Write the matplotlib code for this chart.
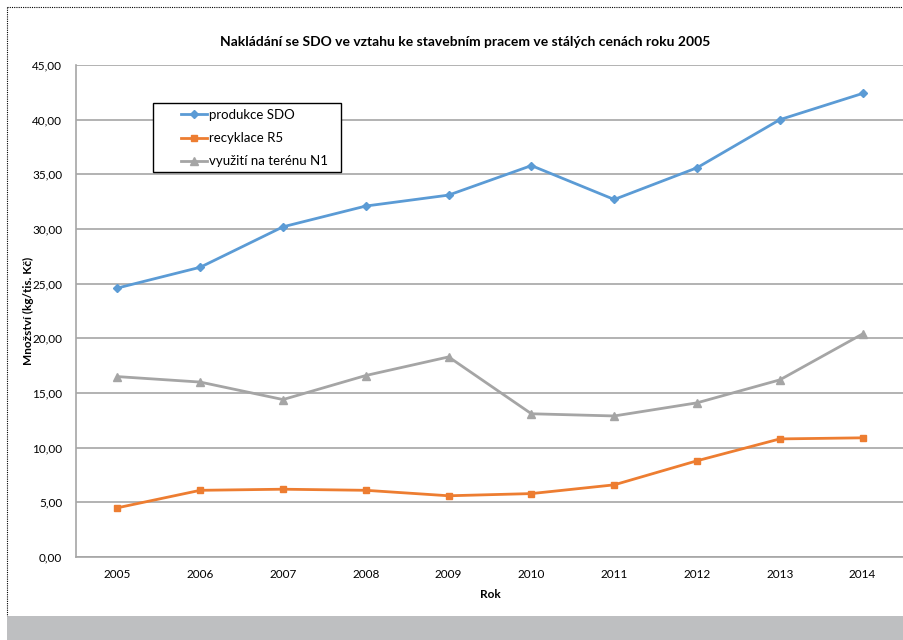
import matplotlib
matplotlib.use("Agg")
import matplotlib.pyplot as plt
from matplotlib.patches import Rectangle
from matplotlib.lines import Line2D
from matplotlib.ticker import FuncFormatter

plt.rcParams['font.family'] = ['Lato', 'DejaVu Sans']

years = ["2005", "2006", "2007", "2008", "2009", "2010", "2011", "2012", "2013", "2014"]
produkce_sdo = [24.6, 26.5, 30.2, 32.1, 33.1, 35.8, 32.7, 35.6, 40.0, 42.4]
recyklace_r5 = [4.5, 6.1, 6.2, 6.1, 5.6, 5.8, 6.6, 8.8, 10.8, 10.9]
vyuziti_n1 = [16.5, 16.0, 14.4, 16.6, 18.3, 13.1, 12.9, 14.1, 16.2, 20.4]
yticks = [0, 5, 10, 15, 20, 25, 30, 35, 40, 45]

W, H = 904, 640
fig = plt.figure(figsize=(W / 100, H / 100), dpi=100)
ax = fig.add_axes([76 / W, 1 - 557 / H, (904 - 76) / W, (557 - 65) / H])

x = list(range(len(years)))
ax.plot(x, produkce_sdo, color="#5B9BD5", lw=2.0, marker="D", ms=4.5, label="produkce SDO")
ax.plot(x, recyklace_r5, color="#ED7D31", lw=2.0, marker="s", ms=5, label="recyklace R5")
ax.plot(x, vyuziti_n1, color="#A5A5A5", lw=2.0, marker="^", ms=5.5, label="využití na terénu N1")

ax.set_xlim(-0.5, len(years) - 0.5)
ax.set_ylim(0, 45)
ax.set_yticks(yticks)
ax.yaxis.set_major_formatter(FuncFormatter(lambda v, p: f"{v:.2f}".replace(".", ",")))
ax.set_xticks(x)
ax.set_xticklabels(years)
ax.tick_params(axis="both", length=0, labelsize=8.5, colors="black")
ax.tick_params(axis="y", pad=10)
ax.tick_params(axis="x", pad=9)
ax.grid(axis="y", color="#A6A6A6", lw=1.2)
ax.set_axisbelow(True)
for s in ["top", "right"]:
    ax.spines[s].set_visible(False)
for s in ["left", "bottom"]:
    ax.spines[s].set_color("#A6A6A6")
    ax.spines[s].set_linewidth(1.2)

ax.set_xlabel("Rok", fontsize=8.5, fontweight="bold", labelpad=6)
ax.set_ylabel("Množství (kg/tis. Kč)", fontsize=8.5, fontweight="bold")
ax.yaxis.set_label_coords((34 - 76) / (904 - 76), 0.5)

fig.text(465 / W, 1 - 42 / H, "Nakládání se SDO ve vztahu ke stavebním pracem ve stálých cenách roku 2005",
         ha="center", va="center", fontsize=10, fontweight="bold")

# legend box drawn as a fixed rectangle (like the source), entries inside
fig.add_artist(Rectangle((153 / W, 1 - 172 / H), (341 - 153) / W, (172 - 103) / H,
                         transform=fig.transFigure, facecolor="white", edgecolor="black",
                         lw=1.0, zorder=5))
leg = fig.legend(*ax.get_legend_handles_labels(), loc="upper left",
                 bbox_to_anchor=(181 / W, 1 - 109 / H), bbox_transform=fig.transFigure,
                 frameon=False, fontsize=9.5, handlelength=2.0,
                 borderpad=0, labelspacing=0.85, handletextpad=0.15, borderaxespad=0)
leg.set_zorder(6)

# outer dotted border and grey band
fig.add_artist(Line2D([7 / W, 7 / W], [1 - 7 / H, 1 - 616 / H], transform=fig.transFigure,
                      color="black", lw=0.8, ls=(0, (1, 1))))
fig.add_artist(Line2D([7 / W, 1], [1 - 7 / H, 1 - 7 / H], transform=fig.transFigure,
                      color="black", lw=0.8, ls=(0, (1, 1))))
fig.add_artist(Rectangle((7 / W, 0), 1 - 7 / W, 24 / H, transform=fig.transFigure,
                         facecolor="#BEBFC1", edgecolor="none"))

fig.savefig("out.png", dpi=100)
